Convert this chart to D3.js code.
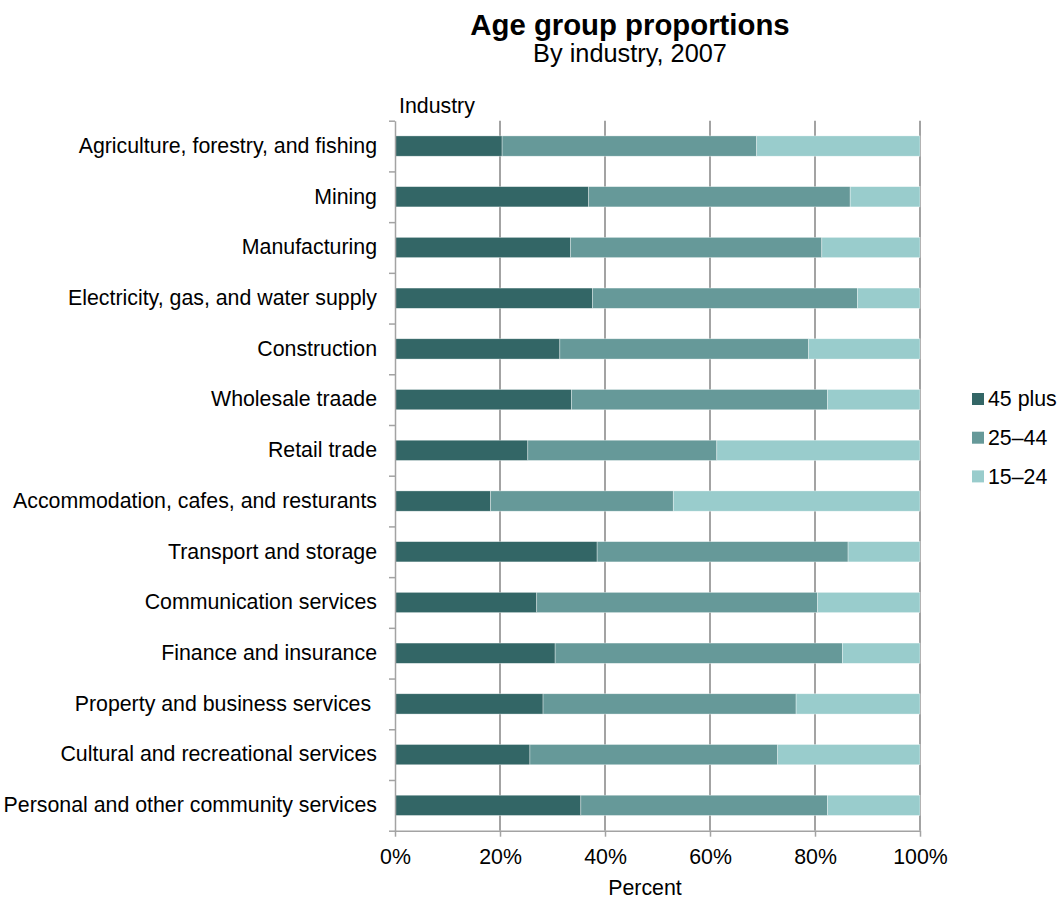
<!DOCTYPE html>
<html>
<head>
<meta charset="utf-8">
<script src="https://cdn.jsdelivr.net/npm/d3@7"></script>
<style>
  body { margin: 0; background: #fff; }
  svg { display: block; font-family: "Liberation Sans", Arial, sans-serif; }
  .cat text { white-space: pre; }
</style>
</head>
<body>
<svg id="chart" width="1059" height="900"></svg>
<script>
// Industries, top to bottom
const industries = [
  "Agriculture, forestry, and fishing",
  "Mining",
  "Manufacturing",
  "Electricity, gas, and water supply",
  "Construction",
  "Wholesale traade",
  "Retail trade",
  "Accommodation, cafes, and resturants",
  "Transport and storage",
  "Communication services",
  "Finance and insurance",
  "Property and business services ",
  "Cultural and recreational services",
  "Personal and other community services"
];

// Share of workers in each age group (percent)
const age45plus = [20.4, 36.9, 33.4, 37.6, 31.4, 33.6, 25.3, 18.2, 38.5, 27.0, 30.5, 28.2, 25.7, 35.4];
const age25to44 = [48.5, 49.8, 47.9, 50.5, 47.4, 48.8, 36.0, 34.8, 47.8, 53.5, 54.7, 48.2, 47.2, 47.0];
const age15to24 = [31.1, 13.3, 18.7, 11.9, 21.2, 17.6, 38.7, 47.0, 13.7, 19.5, 14.8, 23.6, 27.1, 17.6];

const seriesNames = ["45 plus", "25\u201344", "15\u201324"];
const seriesColors = ["#336666", "#669999", "#99cccc"];
const percentTicks = [0, 20, 40, 60, 80, 100];

const rows = industries.map((name, i) => ({
  industry: name,
  "45 plus": age45plus[i],
  "25\u201344": age25to44[i],
  "15\u201324": age15to24[i]
}));

const svg = d3.select("#chart");
const plot = { left: 395, right: 920, top: 120.7, bottom: 830.7 };
const gridColor = "#a3a3a3";
const labelSize = 21.33;

const x = d3.scaleLinear().domain([0, 100]).range([plot.left, plot.right]);
const y = d3.scaleBand()
  .domain(industries)
  .range([plot.top, plot.bottom])
  .paddingInner(0.6)
  .paddingOuter(0.3);
const yEdge = d3.scaleLinear().domain([0, industries.length]).range([plot.top, plot.bottom]);
const color = d3.scaleOrdinal().domain(seriesNames).range(seriesColors);

// Titles
svg.append("text")
  .attr("x", 630).attr("y", 35)
  .attr("text-anchor", "middle")
  .attr("font-size", 29.33).attr("font-weight", "bold")
  .text("Age group proportions");
svg.append("text")
  .attr("x", 630).attr("y", 62)
  .attr("text-anchor", "middle")
  .attr("font-size", 25.33)
  .text("By industry, 2007");

// Vertical gridlines
svg.append("g")
  .selectAll("line")
  .data(percentTicks.slice(1))
  .join("line")
  .attr("x1", d => x(d)).attr("x2", d => x(d))
  .attr("y1", plot.top).attr("y2", plot.bottom)
  .attr("stroke", gridColor).attr("stroke-width", 2);

// Stacked bars
const stacked = d3.stack().keys(seriesNames)(rows);
svg.append("g")
  .selectAll("g")
  .data(stacked)
  .join("g")
  .attr("fill", d => color(d.key))
  .selectAll("rect")
  .data(d => d)
  .join("rect")
  .attr("x", d => x(d[0]))
  .attr("width", d => x(d[1]) - x(d[0]))
  .attr("y", d => y(d.data.industry))
  .attr("height", y.bandwidth())
  .attr("stroke", "#ffffff")
  .attr("stroke-opacity", 0.6)
  .attr("stroke-width", 0.6);

// Left axis: boundary ticks between categories
const leftAxis = svg.append("g")
  .attr("transform", `translate(${plot.left},0)`)
  .call(d3.axisLeft(yEdge).tickValues(d3.range(industries.length + 1)).tickFormat("").tickSize(6).tickSizeOuter(0));
leftAxis.selectAll("path, line").attr("stroke", gridColor).attr("stroke-width", 1.5);

// Category labels
const catAxis = svg.append("g")
  .attr("class", "cat")
  .attr("transform", `translate(${plot.left},0)`)
  .call(d3.axisLeft(y).tickSize(0).tickPadding(18));
catAxis.select(".domain").remove();
catAxis.selectAll("text")
  .attr("font-size", labelSize)
  .attr("font-family", "Liberation Sans, Arial, sans-serif")
  .attr("fill", "#000");

// Bottom axis
const bottomAxis = svg.append("g")
  .attr("transform", `translate(0,${plot.bottom})`)
  .call(d3.axisBottom(x).tickValues(percentTicks).tickFormat(d => d + "%").tickSize(6).tickSizeOuter(0).tickPadding(12));
bottomAxis.selectAll("path, line").attr("stroke", gridColor).attr("stroke-width", 1.5);
bottomAxis.selectAll("text")
  .attr("font-size", labelSize)
  .attr("font-family", "Liberation Sans, Arial, sans-serif")
  .attr("fill", "#000");

// Axis titles
svg.append("text")
  .attr("x", 645).attr("y", 895)
  .attr("text-anchor", "middle")
  .attr("font-size", labelSize)
  .text("Percent");
svg.append("text")
  .attr("x", 399).attr("y", 113)
  .attr("font-size", labelSize)
  .text("Industry");

// Legend
const legend = svg.append("g")
  .selectAll("g")
  .data(seriesNames)
  .join("g")
  .attr("transform", (d, i) => `translate(972,${399 + i * 38.7})`);
legend.append("rect")
  .attr("x", 0).attr("y", -6)
  .attr("width", 12).attr("height", 12)
  .attr("fill", d => color(d));
legend.append("text")
  .attr("x", 16).attr("y", 0)
  .attr("dy", "0.35em")
  .attr("font-size", labelSize)
  .text(d => d);
</script>
</body>
</html>
